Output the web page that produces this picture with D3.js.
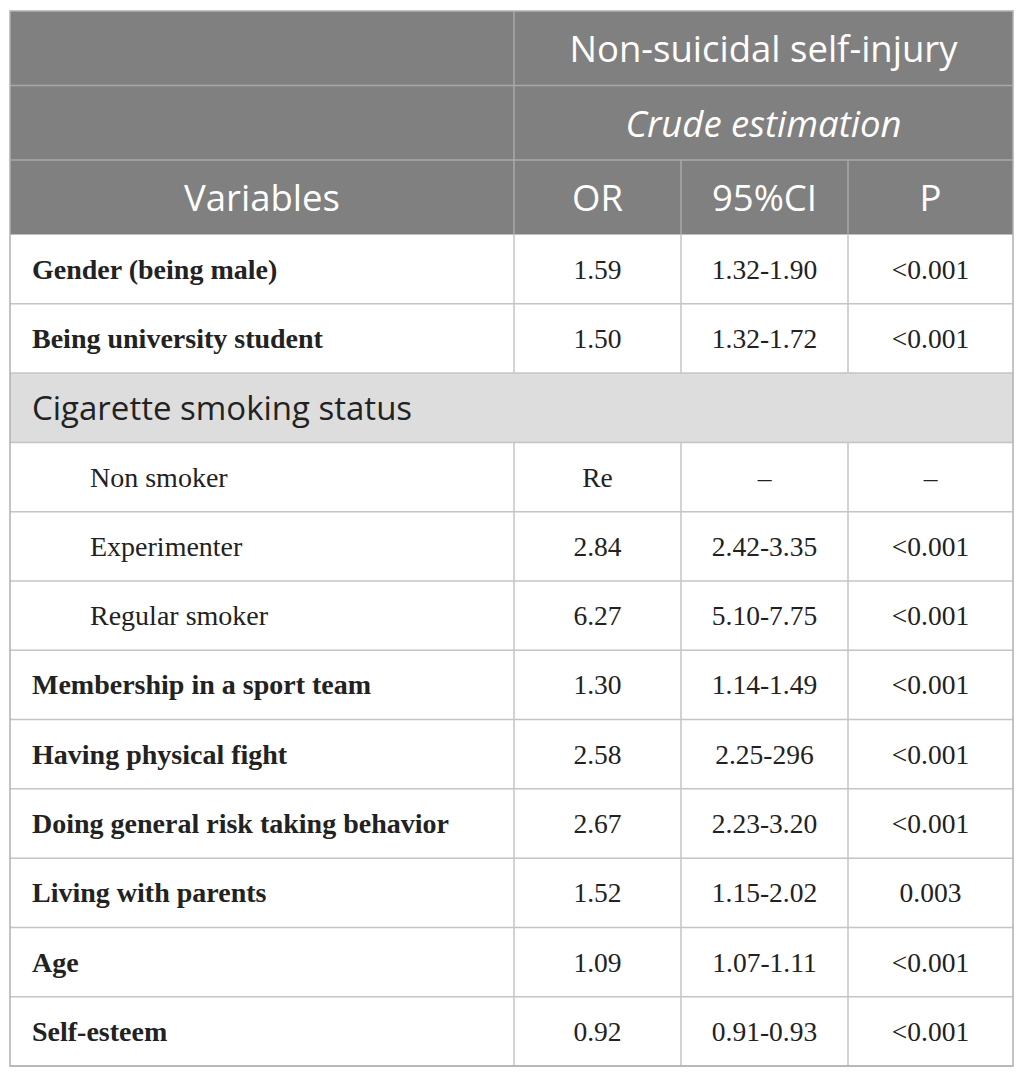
<!DOCTYPE html>
<html>
<head>
<meta charset="utf-8">
<script src="https://cdn.jsdelivr.net/npm/d3@7"></script>
<style>
  body { margin: 0; background: #fff; }
</style>
</head>
<body>
<div id="chart"></div>
<script>
// Dữ liệu bảng
const variables = [
  "Gender (being male)", "Being university student", "Cigarette smoking status",
  "Non smoker", "Experimenter", "Regular smoker", "Membership in a sport team",
  "Having physical fight", "Doing general risk taking behavior", "Living with parents",
  "Age", "Self-esteem"
];
const rowKind = ["main", "main", "group", "sub", "sub", "sub", "main", "main", "main", "main", "main", "main"];
const orValues = ["1.59", "1.50", "", "Re", "2.84", "6.27", "1.30", "2.58", "2.67", "1.52", "1.09", "0.92"];
const ciValues = ["1.32-1.90", "1.32-1.72", "", "\u2013", "2.42-3.35", "5.10-7.75", "1.14-1.49", "2.25-296", "2.23-3.20", "1.15-2.02", "1.07-1.11", "0.91-0.93"];
const pValues = ["<0.001", "<0.001", "", "\u2013", "<0.001", "<0.001", "<0.001", "<0.001", "<0.001", "0.003", "<0.001", "<0.001"];
const columns = ["Variables", "OR", "95%CI", "P"];
const headerTop = ["", "Non-suicidal self-injury"];
const headerSub = ["", "Crude estimation"];

const width = 1025, height = 1077;
const tLeft = 10, tRight = 1013, tTop = 11;
const headH = 74.5;
const bodyTop = tTop + headH * 3, bodyBottom = 1066;

const svg = d3.select("#chart").append("svg")
  .attr("width", width)
  .attr("height", height);

// Thang đo cột
const colEdges = [tLeft, 514, 681, 848, tRight];
const colX = d3.scaleOrdinal().domain(columns).range(colEdges.slice(0, 4));
const colW = c => colEdges[columns.indexOf(c) + 1] - colX(c);

// Thang đo hàng
const yRow = d3.scaleBand()
  .domain(d3.range(variables.length))
  .range([bodyTop, bodyBottom])
  .padding(0);

const sans = "'Open Sans', 'Noto Sans', sans-serif";
const serif = "'Liberation Serif', 'DejaVu Serif', serif";
const headFill = "#808080", headLine = "#a8a8a8", bodyLine = "#c4c4c4";

// Header
svg.append("rect")
  .attr("x", tLeft).attr("y", tTop)
  .attr("width", tRight - tLeft).attr("height", headH * 3)
  .attr("fill", headFill);

const dataLeft = colX("OR");
const headerText = (txt, x, y, italic) => svg.append("text")
  .attr("x", x).attr("y", y)
  .attr("text-anchor", "middle")
  .attr("dominant-baseline", "central")
  .style("font-family", sans)
  .style("font-size", "36.5px")
  .style("font-style", italic ? "italic" : "normal")
  .attr("fill", "#fff")
  .text(txt);

headerText(headerTop[1], (dataLeft + tRight) / 2, tTop + headH / 2);
headerText(headerSub[1], (dataLeft + tRight) / 2, tTop + headH * 1.5, true);
columns.forEach(c => headerText(c, colX(c) + colW(c) / 2, tTop + headH * 2.5));

// Header lines
[tTop + headH, tTop + headH * 2].forEach(y => {
  svg.append("line").attr("x1", tLeft).attr("x2", tRight).attr("y1", y).attr("y2", y)
    .attr("stroke", headLine).attr("stroke-width", 1.5);
});
svg.append("line").attr("x1", dataLeft).attr("x2", dataLeft)
  .attr("y1", tTop).attr("y2", bodyTop).attr("stroke", headLine).attr("stroke-width", 1.5);
["95%CI", "P"].forEach(c => {
  svg.append("line").attr("x1", colX(c)).attr("x2", colX(c))
    .attr("y1", tTop + headH * 2).attr("y2", bodyTop).attr("stroke", headLine).attr("stroke-width", 1.5);
});

// Body rows
const rows = svg.selectAll(".row")
  .data(variables.map((v, i) => ({ v, i, kind: rowKind[i], or: orValues[i], ci: ciValues[i], p: pValues[i] })))
  .enter().append("g")
  .attr("class", "row");

rows.filter(d => d.kind === "group").append("rect")
  .attr("x", tLeft).attr("y", d => yRow(d.i))
  .attr("width", tRight - tLeft).attr("height", yRow.bandwidth())
  .attr("fill", "#dddddd");

rows.append("text")
  .attr("x", d => d.kind === "sub" ? 90 : 32)
  .attr("y", d => yRow(d.i) + yRow.bandwidth() / 2)
  .attr("dominant-baseline", "central")
  .style("font-family", d => d.kind === "group" ? sans : serif)
  .style("font-size", d => d.kind === "group" ? "33px" : "28px")
  .style("font-weight", d => d.kind === "main" ? "bold" : "normal")
  .attr("fill", "#222")
  .text(d => d.v);

[["OR", "or"], ["95%CI", "ci"], ["P", "p"]].forEach(([c, key]) => {
  rows.filter(d => d.kind !== "group").append("text")
    .attr("x", colX(c) + colW(c) / 2)
    .attr("y", d => yRow(d.i) + yRow.bandwidth() / 2)
    .attr("text-anchor", "middle")
    .attr("dominant-baseline", "central")
    .style("font-family", serif)
    .style("font-size", "27.5px")
    .attr("fill", "#222")
    .text(d => d[key]);
});

// Lưới
variables.forEach((v, i) => {
  const y = yRow(i) + yRow.bandwidth();
  svg.append("line").attr("x1", tLeft).attr("x2", tRight).attr("y1", y).attr("y2", y)
    .attr("stroke", bodyLine).attr("stroke-width", 1.5);
});
variables.forEach((v, i) => {
  if (rowKind[i] === "group") return;
  ["OR", "95%CI", "P"].forEach(c => {
    svg.append("line").attr("x1", colX(c)).attr("x2", colX(c))
      .attr("y1", yRow(i)).attr("y2", yRow(i) + yRow.bandwidth())
      .attr("stroke", bodyLine).attr("stroke-width", 1.5);
  });
});

// Viền ngoài
svg.append("rect")
  .attr("x", tLeft).attr("y", tTop)
  .attr("width", tRight - tLeft).attr("height", bodyBottom - tTop)
  .attr("fill", "none").attr("stroke", "#b0b0b0").attr("stroke-width", 1.5);
</script>
</body>
</html>
